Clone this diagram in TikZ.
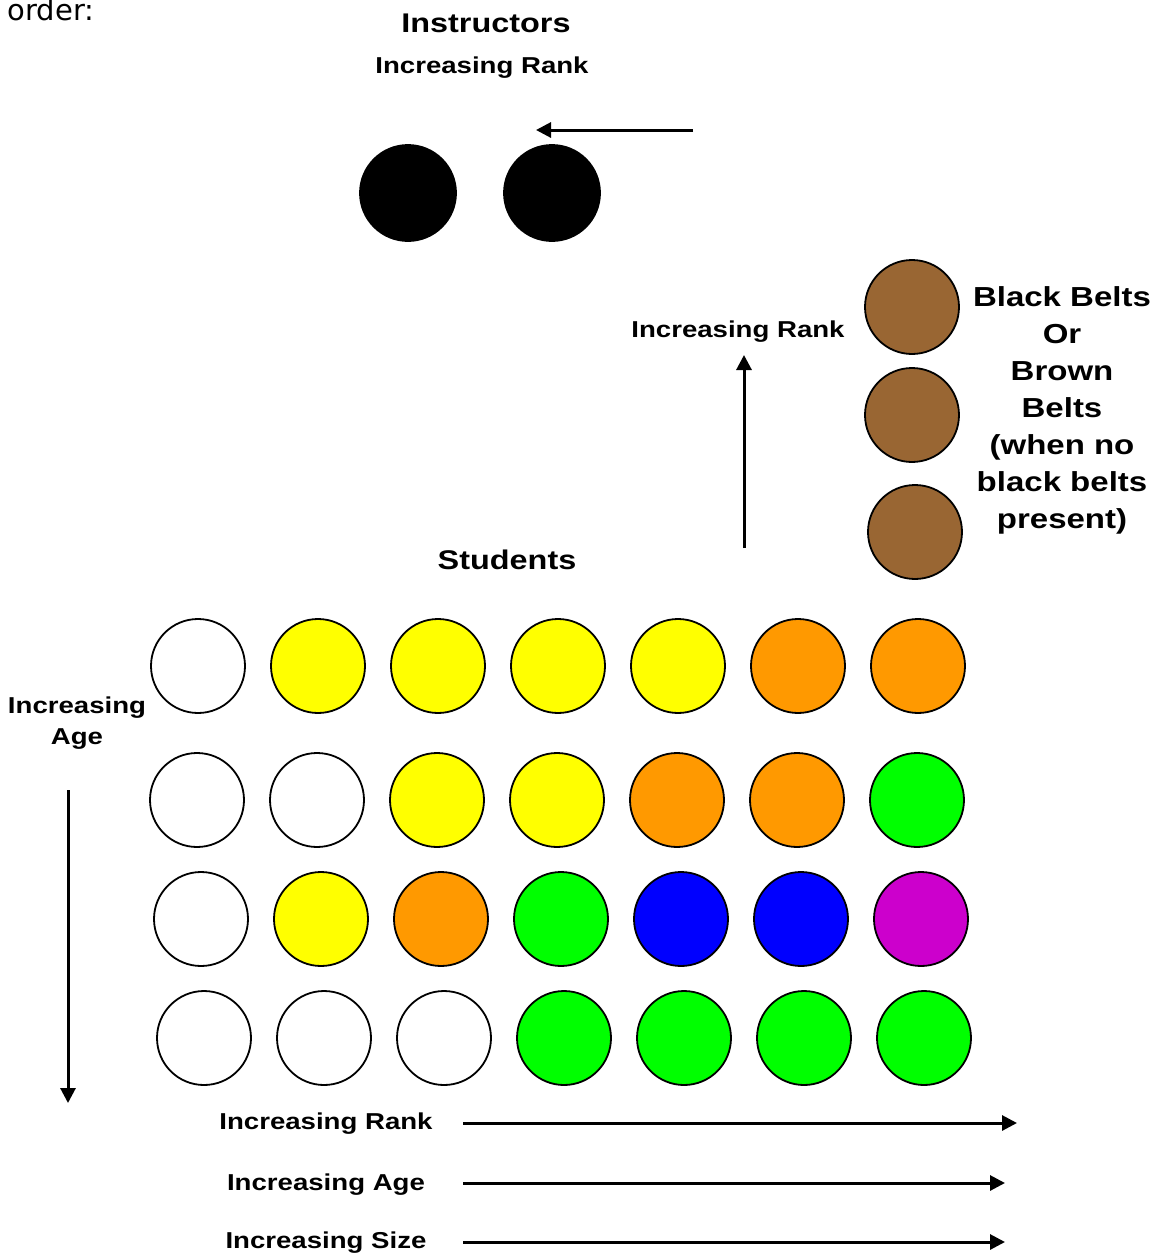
\documentclass[tikz,border=0pt]{standalone}
\usepackage{fontspec}
\setmainfont{Liberation Sans}[FakeStretch=1.2]
\newfontfamily\comicfont{DejaVu Sans}
\usetikzlibrary{arrows.meta}
\definecolor{belty}{HTML}{FFFF00}
\definecolor{belto}{HTML}{FF9900}
\definecolor{beltg}{HTML}{00FF00}
\definecolor{beltb}{HTML}{0000FF}
\definecolor{beltp}{HTML}{CC00CC}
\definecolor{beltbr}{HTML}{996633}
\tikzset{
  dot/.style={circle, draw=black, line width=1.8pt, minimum size=94pt, inner sep=0pt},
  lbl/.style={font=\fontsize{23}{27}\selectfont\bfseries, inner sep=0pt, align=center},
  ttl/.style={font=\fontsize{27}{32}\selectfont\bfseries, inner sep=0pt, align=center},
  arr/.style={line width=3pt, -{Triangle[length=15pt,width=15pt]}}
}
\begin{document}
\begin{tikzpicture}[x=1pt,y=-1pt]
\useasboundingbox (0,0) rectangle (1157,1256);
% header
\node[font=\comicfont\fontsize{29}{32}\selectfont, inner sep=0pt] (order) at (51,10) {order:};
\node[ttl] (instr) at (486,23) {Instructors};
\node[lbl] (irtop) at (482,68) {Increasing Rank};
\coordinate (ta) at (693,130);
\coordinate (tb) at (536,130);
\draw[arr] (ta) -- (tb);
\node[dot, fill=black, minimum size=96pt] (k1) at (408,193) {};
\node[dot, fill=black, minimum size=96pt] (k2) at (552,193) {};
% brown / black belts
\node[lbl] (irside) at (738,332) {Increasing Rank};
\coordinate (va) at (744,548);
\coordinate (vb) at (744,355);
\draw[arr] (va) -- (vb);
\node[dot, fill=beltbr] (b1) at (912,307) {};
\node[dot, fill=beltbr] (b2) at (912,415) {};
\node[dot, fill=beltbr] (b3) at (915,532) {};
\node[font=\fontsize{27.5}{37}\selectfont\bfseries, inner sep=0pt, align=center] (bbtext) at (1062,410)
  {Black Belts\\Or\\Brown\\Belts\\(when no\\black belts\\present)};
% students
\node[ttl] (stud) at (507,560) {Students};
\node[font=\fontsize{23}{31}\selectfont\bfseries, inner sep=0pt, align=center] (iage) at (77,723) {Increasing\\Age};
\coordinate (la) at (68,790);
\coordinate (lb) at (68,1103);
\draw[arr] (la) -- (lb);
% row 1
\foreach \c [count=\i] in {white,belty,belty,belty,belty,belto,belto}
  \node[dot, fill=\c] (r1c\i) at ({198+120*(\i-1)},666) {};
% row 2
\foreach \c [count=\i] in {white,white,belty,belty,belto,belto,beltg}
  \node[dot, fill=\c] (r2c\i) at ({197+120*(\i-1)},800) {};
% row 3
\foreach \c [count=\i] in {white,belty,belto,beltg,beltb,beltb,beltp}
  \node[dot, fill=\c] (r3c\i) at ({201+120*(\i-1)},919) {};
% row 4
\foreach \c [count=\i] in {white,white,white,beltg,beltg,beltg,beltg}
  \node[dot, fill=\c] (r4c\i) at ({204+120*(\i-1)},1038) {};
% bottom legends
\node[lbl] (brank) at (326,1124) {Increasing Rank};
\node[lbl] (bage) at (326,1185) {Increasing Age};
\node[lbl] (bsize) at (326,1243) {Increasing Size};
\coordinate (h1a) at (463,1123);
\coordinate (h1b) at (1017,1123);
\coordinate (h2a) at (463,1183);
\coordinate (h2b) at (1005,1183);
\coordinate (h3a) at (463,1242);
\coordinate (h3b) at (1005,1242);
\draw[arr] (h1a) -- (h1b);
\draw[arr] (h2a) -- (h2b);
\draw[arr] (h3a) -- (h3b);
\end{tikzpicture}
\end{document}
